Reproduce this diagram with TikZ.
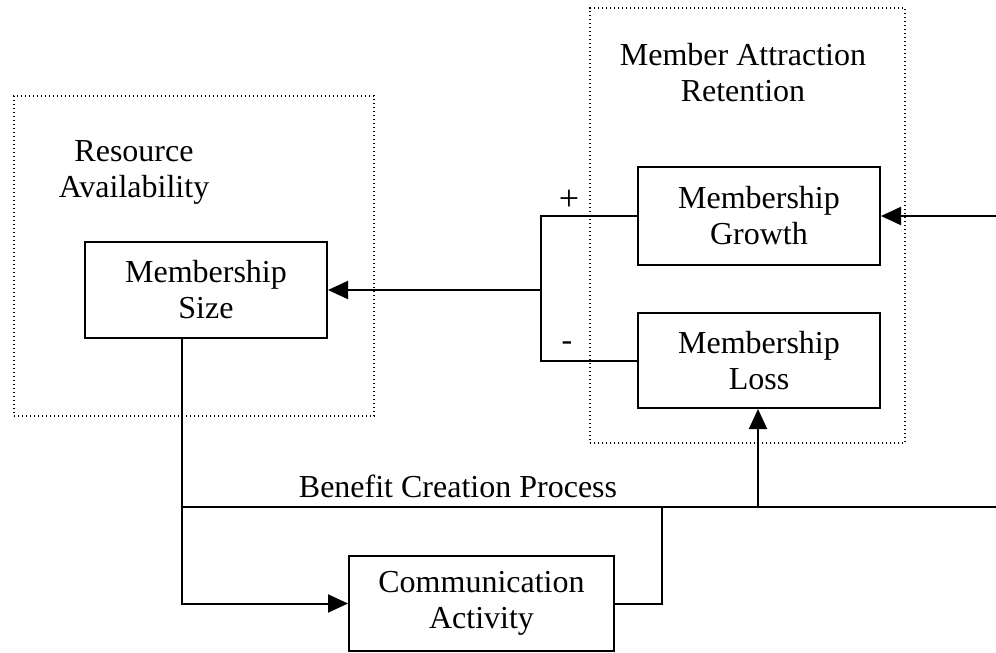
\documentclass[tikz,border=0pt]{standalone}
\usepackage{fontspec}
\setmainfont{Liberation Serif}
\usetikzlibrary{arrows.meta}
\newcommand{\diagfont}{\fontsize{24}{27}\selectfont}
\begin{document}
\begin{tikzpicture}[x=0.75pt,y=-0.75pt,
  blockbox/.style={draw, line width=1.5pt, inner sep=0pt, align=center, font=\diagfont},
  region/.style={draw, dotted, line width=1pt, inner sep=0pt},
  label/.style={align=center, font=\diagfont, inner sep=0pt},
  conn/.style={line width=1.5pt},
  arr/.style={conn, -{Triangle[length=15pt,width=13.5pt]}}]
\useasboundingbox (0,0) rectangle (996,653);

% dotted regions
\node[region, minimum width=270pt, minimum height=240pt] (resreg) at (194,256) {};
\node[region, minimum width=236.25pt, minimum height=326.25pt] (attreg) at (747.5,225.5) {};
\node[label] (restitle) at (134,172) {Resource\\Availability};
\node[label] (atttitle) at (743,73) {Member Attraction\\Retention};

% blocks
\node[blockbox, minimum width=181.5pt, minimum height=72pt] (size) at (206,290) {Membership\\Size};
\node[blockbox, minimum width=181.5pt, minimum height=73.5pt] (growth) at (759,216) {Membership\\Growth};
\node[blockbox, minimum width=181.5pt, minimum height=71.25pt] (loss) at (759,360.5) {Membership\\Loss};
\node[blockbox, minimum width=198.75pt, minimum height=71.25pt] (comm) at (481.5,603.5) {Communication\\Activity};

% junction points
\coordinate (branch) at (541,290);
\coordinate (inright) at (996,216);
\coordinate (benL) at (182,507);
\coordinate (benR) at (996,507);
\coordinate (benUp) at (758,507);
\coordinate (commUp) at (662,507);

% growth / loss combine into membership size
\draw[conn] (growth.west) -| (branch) |- (loss.west);
\draw[arr] (branch) -- (size.east);
\node[label, font=\fontsize{27}{27}\selectfont] (plus) at (569,200) {+};
\node[label, font=\fontsize{24}{24}\selectfont] (minus) at (567,346) {-};

% external input to growth
\draw[arr] (inright) -- (growth.east);

% benefit creation process
\draw[conn] (benL) -- (benR);
\draw[arr] (size.south -| benL) |- (comm.west);
\draw[conn] (comm.east) -| (commUp);
\draw[arr] (benUp) -- (loss.south -| benUp);
\node[label, anchor=base] (bcp) at (458,497) {Benefit Creation Process};
\end{tikzpicture}
\end{document}
